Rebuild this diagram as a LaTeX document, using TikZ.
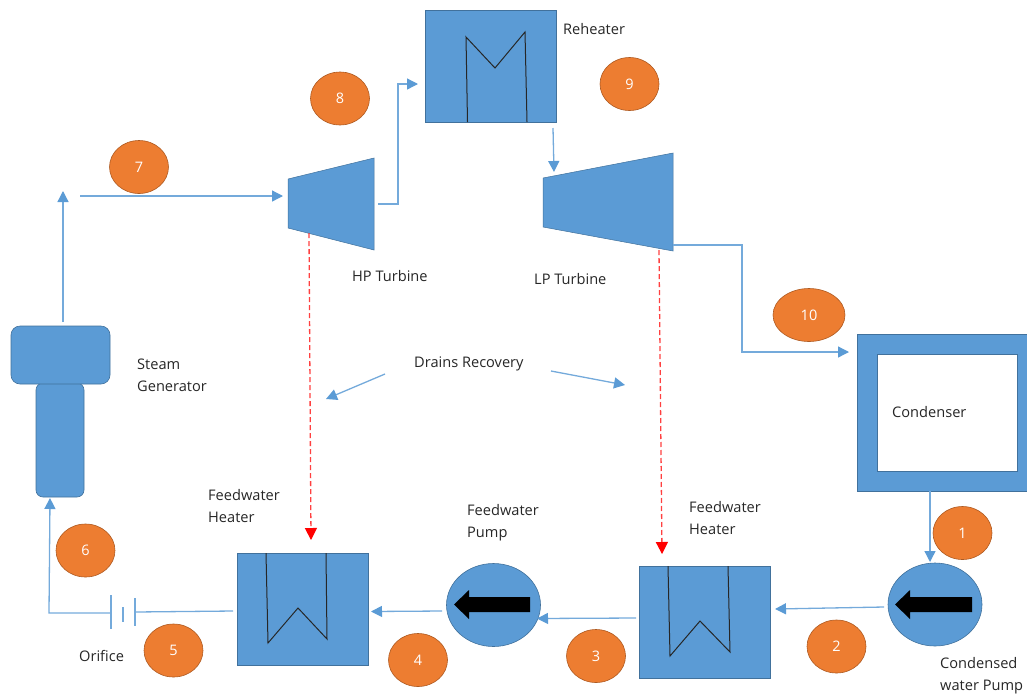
\documentclass[tikz,border=0pt]{standalone}
\usepackage{fontspec}
\setmainfont{Open Sans}
\usetikzlibrary{arrows.meta,shapes.geometric}
\definecolor{blueF}{HTML}{5B9BD5}
\definecolor{blueE}{HTML}{41719C}
\definecolor{orangeF}{HTML}{ED7D31}
\definecolor{orangeE}{HTML}{AE5A21}
\tikzset{
  equip/.style={draw=blueE,line width=0.6pt,fill=blueF,inner sep=0pt,minimum width=#1},
  flow/.style={draw=blueF!85,line width=1.3pt,-{Triangle[length=11pt,width=11pt,color=blueF]}},
  plain/.style={draw=blueF!85,line width=1.3pt},
  drain/.style={draw=red!75,line width=1.3pt,dash pattern=on 5pt off 3pt,-{Triangle[length=12pt,width=12pt,color=red]}},
  coil/.style={draw=black!85,line width=1pt},
  badge/.style={ellipse,draw=orangeE,line width=0.6pt,fill=orangeF,text=white,minimum width=59pt,minimum height=53pt,inner sep=0pt,font=\fontsize{14.5pt}{16pt}\selectfont},
  pumpbody/.style={ellipse,draw=blueE,line width=0.6pt,fill=blueF,minimum width=94pt,minimum height=83pt,inner sep=0pt},
  lbl/.style={anchor=west,inner sep=0pt,align=left,font=\fontsize{14.6pt}{22pt}\selectfont,text=black!85}
}
\begin{document}
\begin{tikzpicture}[x=1pt,y=-1pt]
\useasboundingbox (0,0) rectangle (1027,697);
% equipment
\node[equip=131pt,minimum height=112pt] (reheater) at (490.5,66) {};
\draw[coil] (467.5,122)--(466,37)--(495,68)--(525,32)--(527,122);
\draw[fill=blueF,draw=blueE,line width=0.5pt] (288,179)--(374,158)--(374,250)--(288,228)--cycle;
\node[inner sep=0pt,minimum width=86pt,minimum height=49pt] (hp) at (331,204) {};
\draw[fill=blueF,draw=blueE,line width=0.5pt] (543,178)--(673,153)--(673,251)--(543,227)--cycle;
\node[inner sep=0pt,minimum width=130pt,minimum height=49pt] (lp) at (608,202.5) {};
\node[equip=48pt,minimum height=114pt,rounded corners=7pt] (sgb) at (60,440) {};
\node[equip=99pt,minimum height=58pt,rounded corners=9pt] (sgt) at (60.5,355) {};
\node[draw=blueE,line width=0.4pt,fill=blueF,inner sep=0pt,minimum width=170pt,minimum height=157pt] (condenser) at (942,412.5) {};
\node[fill=white,draw=blueE,line width=0.4pt,inner sep=0pt,minimum width=140pt,minimum height=117pt] (condin) at (947,412.5) {};
\node[equip=131pt,minimum height=112pt] (fwhA) at (302.5,609) {};
\draw[coil] (266,553)--(268,643)--(298,608)--(327,639)--(326,553);
\node[equip=131pt,minimum height=112pt] (fwhB) at (704.5,622) {};
\draw[coil] (668,566)--(670,656)--(700,621)--(730,652)--(728,566);
\node[pumpbody] (pumpA) at (935,604.5) {};
\fill[black] (895,604.5)--(910,590)--(910,597)--(972,597)--(972,612)--(910,612)--(910,619)--cycle;
\node[pumpbody] (pumpB) at (493.5,605) {};
\fill[black] (454,604.5)--(469,590)--(469,597)--(530,597)--(530,612)--(469,612)--(469,619)--cycle;
% connector ends
\coordinate (sgUp) at (63,322);
\coordinate (sgTop) at (63,191);
\coordinate (steamA) at (80,196);
\coordinate (steamB) at (283,196);
\coordinate (hpOut) at (378,204);
\coordinate (rhIn) at (418,84);
\coordinate (rhOut) at (553,128);
\coordinate (lpIn) at (554,172);
\coordinate (lpOut) at (673,245);
\coordinate (cdIn) at (849,352);
\coordinate (hpBleed) at (309,233);
\coordinate (hpDrain) at (311,540);
\coordinate (lpBleed) at (659,250);
\coordinate (lpDrain) at (662,554);
\coordinate (cdOut) at (930,491);
\coordinate (paIn) at (930,562);
\coordinate (paOut) at (884,607);
\coordinate (fbIn) at (775,609);
\coordinate (fbOut) at (636,618);
\coordinate (pbIn) at (537,618.5);
\coordinate (pbOut) at (442,611);
\coordinate (faIn) at (371,611.5);
\coordinate (faOut) at (233,611);
\coordinate (orR) at (135,612);
\coordinate (orL) at (111,613);
\coordinate (orCorner) at (49,613);
\coordinate (sgIn) at (50,498);
\coordinate (drStartL) at (385,374);
\coordinate (drEndL) at (326,399);
\coordinate (drStartR) at (551,371);
\coordinate (drEndR) at (625,385);
% connectors
\draw[flow] (sgUp) -- (sgTop);
\draw[flow] (steamA) -- (steamB);
\draw[flow] (hpOut) -- (398,204) -- (398,84) -- (rhIn);
\draw[flow] (rhOut) -- (lpIn);
\draw[flow] (lpOut) -- (742,245) -- (742,352) -- (cdIn);
\draw[flow] (cdOut) -- (paIn);
\draw[flow] (paOut) -- (fbIn);
\draw[flow] (fbOut) -- (pbIn);
\draw[flow] (pbOut) -- (faIn);
\draw[plain] (faOut) -- (orR);
\draw[flow] (orL) -- (orCorner) -- (sgIn);
\draw[plain] (111,595) -- (111,629);
\draw[plain] (123,607) -- (123,622);
\draw[plain] (135,598) -- (135,626);
\draw[flow] (drStartL) -- (drEndL);
\draw[flow] (drStartR) -- (drEndR);
\draw[drain] (hpBleed) -- (hpDrain);
\draw[drain] (lpBleed) -- (lpDrain);
% badges
\node[badge] (b1) at (962.5,533) {1};
\node[badge] (b2) at (836.5,646.5) {2};
\node[badge] (b3) at (596,656) {3};
\node[badge] (b4) at (418,660) {4};
\node[badge] (b5) at (173.5,650.5) {5};
\node[badge] (b6) at (85.5,550.5) {6};
\node[badge] (b7) at (139,167) {7};
\node[badge] (b8) at (340,98.5) {8};
\node[badge] (b9) at (629.5,84) {9};
\node[badge,minimum width=72pt] (b10) at (809,315) {10};
% labels
\node[lbl] (t1) at (563,29.5) {Reheater};
\node[lbl] (t2) at (352,276.5) {HP Turbine};
\node[lbl] (t3) at (534,279.5) {LP Turbine};
\node[lbl] (t4) at (137,375.5) {Steam\\Generator};
\node[lbl] (t5) at (414,364) {Drains Recovery};
\node[lbl] (t6) at (892,412.5) {Condenser};
\node[lbl] (t7) at (208,506.5) {Feedwater\\Heater};
\node[lbl] (t8) at (467,522.5) {Feedwater\\Pump};
\node[lbl] (t9) at (689,518.5) {Feedwater\\Heater};
\node[lbl] (t10) at (79,655.5) {Orifice};
\node[lbl] (t11) at (940,675.5) {Condensed\\water Pump};
\end{tikzpicture}
\end{document}
